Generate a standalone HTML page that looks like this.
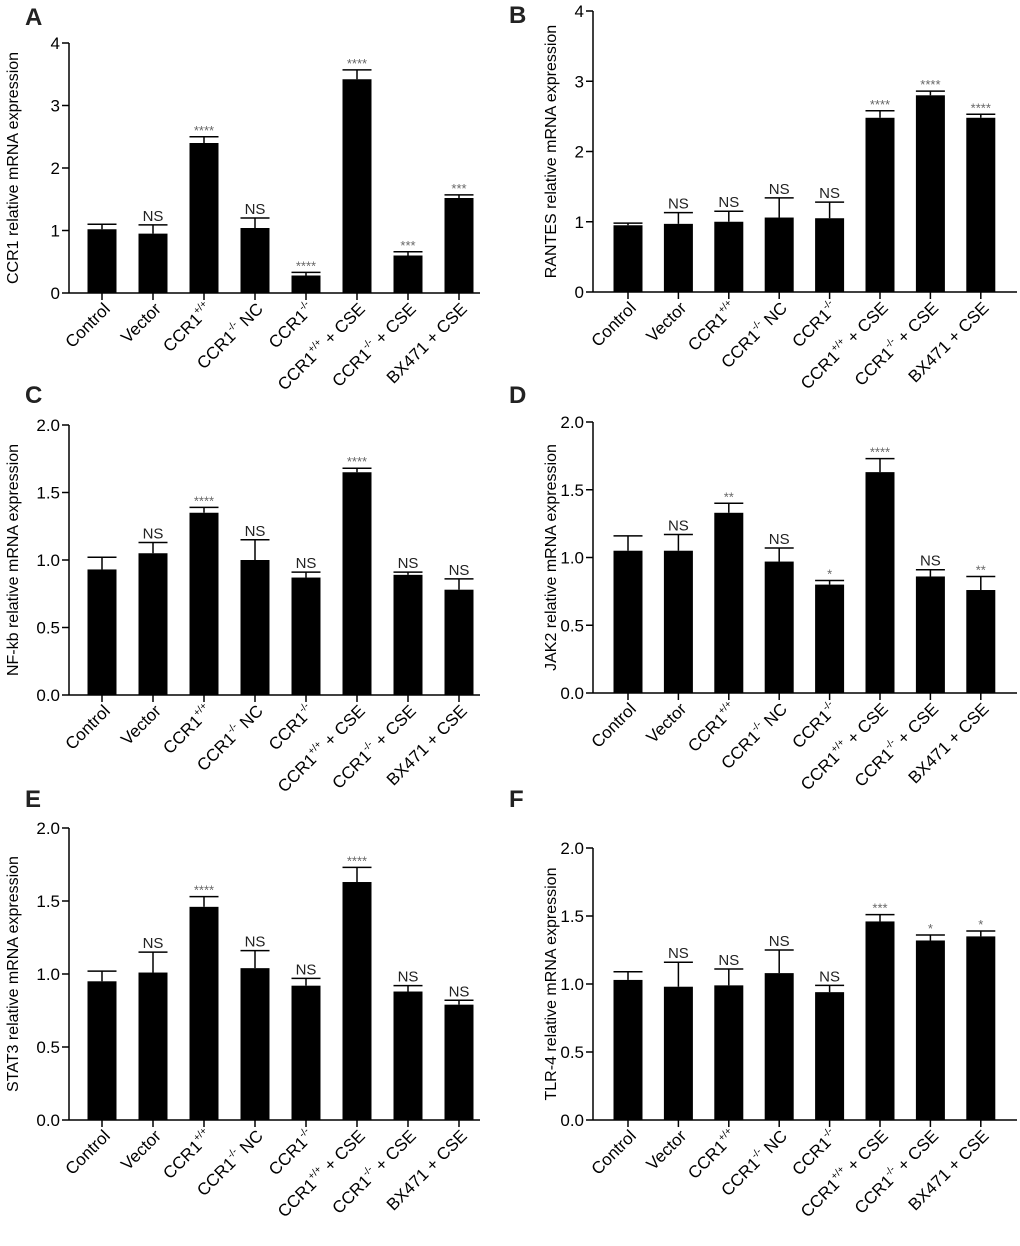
<!DOCTYPE html>
<html><head><meta charset="utf-8">
<style>
html,body{margin:0;padding:0;background:#fff;}
svg{display:block;font-family:"Liberation Sans",Arial,sans-serif;}
</style></head>
<body>
<svg id="fig" width="1020" height="1246" viewBox="0 0 1020 1246" xmlns="http://www.w3.org/2000/svg"></svg>
<script>
const categories = ["Control","Vector","CCR1+/+","CCR1-/- NC","CCR1-/-","CCR1+/+ + CSE","CCR1-/- + CSE","BX471 + CSE"];
const valuesA = [1.02,0.95,2.40,1.04,0.28,3.42,0.60,1.52];
const errorsA = [0.08,0.14,0.10,0.16,0.05,0.15,0.06,0.05];
const sigA = ["","NS","****","NS","****","****","***","***"];
const valuesB = [0.95,0.97,1.00,1.06,1.05,2.48,2.80,2.48];
const errorsB = [0.03,0.16,0.15,0.28,0.23,0.10,0.06,0.05];
const sigB = ["","NS","NS","NS","NS","****","****","****"];
const valuesC = [0.93,1.05,1.35,1.00,0.87,1.65,0.89,0.78];
const errorsC = [0.09,0.08,0.04,0.15,0.04,0.03,0.02,0.08];
const sigC = ["","NS","****","NS","NS","****","NS","NS"];
const valuesD = [1.05,1.05,1.33,0.97,0.80,1.63,0.86,0.76];
const errorsD = [0.11,0.12,0.07,0.10,0.03,0.10,0.05,0.10];
const sigD = ["","NS","**","NS","*","****","NS","**"];
const valuesE = [0.95,1.01,1.46,1.04,0.92,1.63,0.88,0.79];
const errorsE = [0.07,0.14,0.07,0.12,0.05,0.10,0.04,0.03];
const sigE = ["","NS","****","NS","NS","****","NS","NS"];
const valuesF = [1.03,0.98,0.99,1.08,0.94,1.46,1.32,1.35];
const errorsF = [0.06,0.18,0.12,0.17,0.05,0.05,0.04,0.04];
const sigF = ["","NS","NS","NS","NS","***","*","*"];
const ticks4 = ["0","1","2","3","4"];
const ticks2 = ["0.0","0.5","1.0","1.5","2.0"];

const NS="http://www.w3.org/2000/svg";
const svg=document.getElementById('fig');
function mk(tag,attrs,parent){const e=document.createElementNS(NS,tag);for(const k in attrs)e.setAttribute(k,attrs[k]);(parent||svg).appendChild(e);return e;}

function labelText(g,name,x,y){
  const t=mk('text',{x:x,y:y,'text-anchor':'end','font-size':'17',fill:'#000',transform:`rotate(-45 ${x} ${y})`},g);
  
  
  const m=name.match(/^CCR1([+-]\/[+-])(.*)$/);
  if(m){
    t.appendChild(document.createTextNode('CCR1'));
    const s=mk('tspan',{'font-size':'10',dy:'-8'},t);s.textContent=m[1];
    const r=mk('tspan',{dy:'8'},t);r.textContent=m[2];
  } else t.textContent=name;
}

function panel(o){
  const g=mk('g',{});
  
  
  const L=mk('text',{x:o.lx,y:o.ly,'font-size':'24','font-weight':'bold',fill:'#222'},g);L.textContent=o.letter;
  
  const yS=v=>o.y0-(v/o.ymax)*(o.y0-o.ytop);
  const xS=i=>o.x0+o.first+i*o.step;
  const ya=mk('line',{x1:o.x0,y1:o.ytop,x2:o.x0,y2:o.y0,stroke:'#000','stroke-width':1.5},g);
  
  const xa=mk('line',{x1:o.x0,y1:o.y0,x2:o.x1,y2:o.y0,stroke:'#000','stroke-width':1.5},g);
  
  o.ticks.forEach((tl,i)=>{
    const v=i*o.ymax/(o.ticks.length-1);const y=yS(v);
    mk('line',{x1:o.x0-7,y1:y,x2:o.x0,y2:y,stroke:'#000','stroke-width':1.5},g);
    const t=mk('text',{x:o.x0-9,y:y+6,'text-anchor':'end','font-size':'17'},g);t.textContent=tl;
    
  });
  const my=(o.ytop+o.y0)/2;
  const yt=mk('text',{x:o.tx,y:my,'text-anchor':'middle','font-size':'16',transform:`rotate(-90 ${o.tx} ${my})`},g);
  yt.textContent=o.title;
  o.values.forEach((v,i)=>{
    const cx=xS(i),bw=29;
    const b=mk('rect',{x:cx-bw/2,y:yS(v),width:bw,height:o.y0-yS(v),fill:'#000'},g);
    
    const ye=yS(v+o.errors[i]);
    mk('line',{x1:cx,y1:yS(v),x2:cx,y2:ye,stroke:'#000','stroke-width':1.5},g);
    mk('line',{x1:cx-bw/2,y1:ye,x2:cx+bw/2,y2:ye,stroke:'#000','stroke-width':1.5},g);
    if(o.sig[i]){
      const isStar=o.sig[i][0]==='*';
      const s=mk('text',{x:cx,y:ye-(isStar?2:4),'text-anchor':'middle','font-size':isStar?'13':'15',fill:isStar?'#666':'#222'},g);
      s.textContent=o.sig[i];
    }
    mk('line',{x1:cx,y1:o.y0,x2:cx,y2:o.y0+7,stroke:'#000','stroke-width':1.5},g);
    labelText(g,categories[i],cx+9,o.y0+17);
  });
}
const L={first:33,step:51,x0:69,x1:480,tx:18};
const R={first:35,step:50.4,x0:593,x1:1017,tx:556};
panel({...L,letter:'A',lx:25,ly:25,ytop:43,y0:293,ymax:4,ticks:ticks4,title:'CCR1 relative mRNA expression',values:valuesA,errors:errorsA,sig:sigA});
panel({...R,letter:'B',lx:509,ly:23,ytop:11,y0:292,ymax:4,ticks:ticks4,title:'RANTES relative mRNA expression',values:valuesB,errors:errorsB,sig:sigB});
panel({...L,letter:'C',lx:25,ly:403,ytop:425,y0:695,ymax:2,ticks:ticks2,title:'NF-kb relative mRNA expression',values:valuesC,errors:errorsC,sig:sigC});
panel({...R,letter:'D',lx:509,ly:403,ytop:422,y0:693,ymax:2,ticks:ticks2,title:'JAK2 relative mRNA expression',values:valuesD,errors:errorsD,sig:sigD});
panel({...L,letter:'E',lx:25,ly:807,ytop:828,y0:1120,ymax:2,ticks:ticks2,title:'STAT3 relative mRNA expression',values:valuesE,errors:errorsE,sig:sigE});
panel({...R,letter:'F',lx:509,ly:807,ytop:848,y0:1120,ymax:2,ticks:ticks2,title:'TLR-4 relative mRNA expression',values:valuesF,errors:errorsF,sig:sigF});
</script>
</body></html>
